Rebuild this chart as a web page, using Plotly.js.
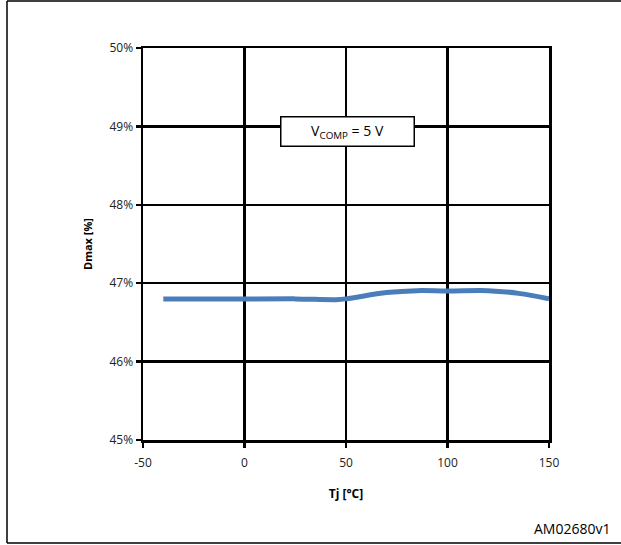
<!DOCTYPE html>
<html><head><meta charset="utf-8">
<script src="https://cdn.plot.ly/plotly-3.0.1.min.js"></script>
<style>body{margin:0;background:#fff}#c{width:621px;height:545px}</style>
</head><body><div id="c"></div>
<script>
var tj = [-40, 0, 25, 45, 50, 70, 85, 100, 120, 135, 150];
var dmax = [46.8, 46.8, 46.8, 46.79, 46.8, 46.88, 46.905, 46.9, 46.905, 46.87, 46.8];
var xTicks = [-50, 0, 50, 100, 150];
var xTickText = ['-50', '0', '50', '100', '150'];
var yTicks = [45, 46, 47, 48, 49, 50];
var yTickText = ['45%', '46%', '47%', '48%', '49%', '50%'];

var W = 621, H = 545, L = 143, R = 72, T = 48, B = 105;
var pw = W - L - R, ph = H - T - B;
function px(x){return (x - L) / pw;}
function py(y){return (H - B - y) / ph;}

var font = {family: 'Open Sans, Noto Sans, sans-serif', size: 12, color: '#222'};
Plotly.newPlot('c', [{
  x: tj, y: dmax, mode: 'lines', type: 'scatter',
  line: {color: '#4a7ebb', width: 5, shape: 'spline', smoothing: 1},
  hoverinfo: 'skip'
}], {
  width: W, height: H,
  margin: {l: L, r: R, t: T, b: B},
  paper_bgcolor: '#fff', plot_bgcolor: '#fff',
  showlegend: false,
  font: font,
  xaxis: {
    range: [-50, 150], tickvals: xTicks, ticktext: xTickText, ticks: 'outside', ticklen: 5, tickwidth: 2.5, tickcolor: '#000',
    ticklabelstandoff: 5,
    showgrid: true, gridcolor: '#000', gridwidth: 2.5, zeroline: false,
    showline: true, linecolor: '#000', linewidth: 2.5, mirror: true,
    tickfont: font,
    title: {text: '<b>Tj [°C]</b>', font: {family: font.family, size: 12, color: '#000'}, standoff: 20}
  },
  yaxis: {
    range: [45, 50], tickvals: yTicks, ticktext: yTickText, ticks: 'outside', ticklen: 5, tickwidth: 2.5, tickcolor: '#000',
    showgrid: true, gridcolor: '#000', gridwidth: 2.5, zeroline: false,
    showline: true, linecolor: '#000', linewidth: 2.5, mirror: true,
    tickfont: font,
    title: {text: '<b>Dmax [%]</b>', font: {family: font.family, size: 11, color: '#000'}, standoff: 15}
  },
  annotations: [
    {x: 50.5, y: 48.93, xref: 'x', yref: 'y', showarrow: false,
     text: 'V<sub>COMP</sub> = 5 V', font: {family: font.family, size: 14, color: '#000'},
     bgcolor: '#fff', bordercolor: '#000', borderwidth: 1.5, width: 130, height: 26},
    {x: px(612), y: py(528), xref: 'paper', yref: 'paper', xanchor: 'right', yanchor: 'middle',
     showarrow: false, text: 'AM02680v1', font: {family: font.family, size: 14, color: '#000'}}
  ],
  shapes: [
    {type: 'line', xref: 'paper', yref: 'paper', x0: px(7), x1: px(621), y0: py(1), y1: py(1), line: {color: '#000', width: 1.5}},
    {type: 'line', xref: 'paper', yref: 'paper', x0: px(7), x1: px(7), y0: py(1), y1: py(543), line: {color: '#000', width: 1.5}},
    {type: 'line', xref: 'paper', yref: 'paper', x0: px(7), x1: px(621), y0: py(543), y1: py(543), line: {color: '#000', width: 1.5}}
  ]
}, {staticPlot: true});
</script></body></html>
